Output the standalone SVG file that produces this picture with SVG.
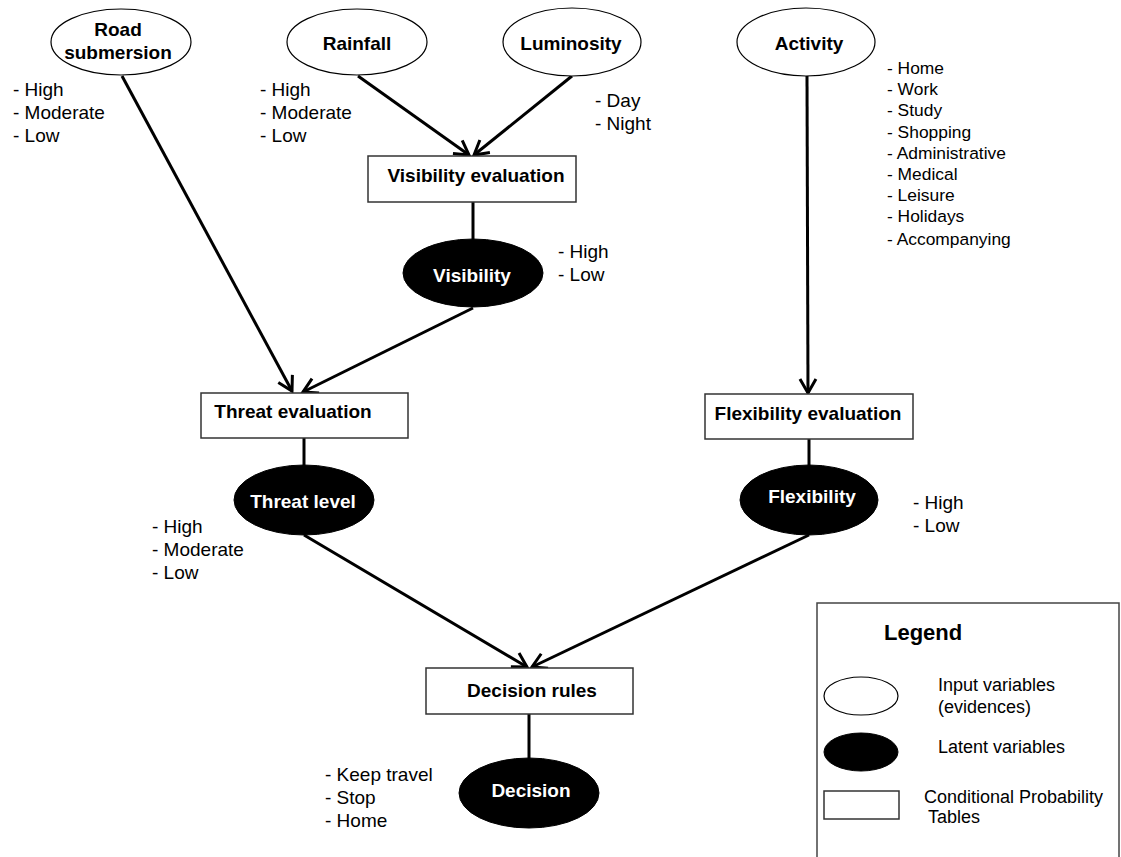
<svg xmlns="http://www.w3.org/2000/svg" width="1121" height="857" viewBox="0 0 1121 857">
<defs>
<style>
.in{fill:#fff;stroke:#000;stroke-width:1.2}
.lat{fill:#000;stroke:#000;stroke-width:1}
.cpt{fill:#fff;stroke:#333;stroke-width:1.5}
.nt{font-family:"Liberation Sans",Arial,sans-serif;font-weight:bold;font-size:19px;text-anchor:middle}
.wt{fill:#fff}
.bt{fill:#000}
.lbl{font-family:"Liberation Sans",Arial,sans-serif;font-size:19px;fill:#000}
.act{font-family:"Liberation Sans",Arial,sans-serif;font-size:17.4px;fill:#000}
.edge{stroke:#000;stroke-width:3;fill:none}
.lg{font-family:"Liberation Sans",Arial,sans-serif;font-size:18px;fill:#000}
</style>
<marker id="arr" markerUnits="userSpaceOnUse" markerWidth="24" markerHeight="24" viewBox="0 0 24 24" refX="20" refY="12" orient="auto">
<path d="M6,4 L20,12 L6,20" fill="none" stroke="#000" stroke-width="3"/>
</marker>
</defs>
<rect width="1121" height="857" fill="#fff"/>

<g id="connectors">
<line class="edge" x1="122" y1="76" x2="292" y2="391" marker-end="url(#arr)"/>
<line class="edge" x1="358" y1="76" x2="469" y2="155" marker-end="url(#arr)"/>
<line class="edge" x1="572" y1="76" x2="474" y2="155" marker-end="url(#arr)"/>
<line class="edge" x1="473" y1="202" x2="473" y2="239"/>
<line class="edge" x1="473" y1="308" x2="303" y2="392" marker-end="url(#arr)"/>
<line class="edge" x1="807" y1="76" x2="808" y2="393" marker-end="url(#arr)"/>
<line class="edge" x1="809" y1="439" x2="809" y2="466"/>
<line class="edge" x1="304" y1="438" x2="304" y2="466"/>
<line class="edge" x1="304" y1="535" x2="527" y2="667" marker-end="url(#arr)"/>
<line class="edge" x1="809" y1="535" x2="532" y2="667" marker-end="url(#arr)"/>
<line class="edge" x1="529" y1="714" x2="529" y2="758"/>
</g>

<g id="road">
<ellipse class="in" cx="121" cy="42" rx="70" ry="33"/>
<text class="nt bt" x="118" y="36">Road</text>
<text class="nt bt" x="118" y="59">submersion</text>
<text class="lbl" x="13" y="96">- High</text>
<text class="lbl" x="13" y="119">- Moderate</text>
<text class="lbl" x="13" y="142">- Low</text>
</g>

<g id="rainfall">
<ellipse class="in" cx="357" cy="42" rx="70" ry="33"/>
<text class="nt bt" x="357" y="50">Rainfall</text>
<text class="lbl" x="260" y="96">- High</text>
<text class="lbl" x="260" y="119">- Moderate</text>
<text class="lbl" x="260" y="142">- Low</text>
</g>

<g id="luminosity">
<ellipse class="in" cx="572" cy="42" rx="69" ry="34"/>
<text class="nt bt" x="571" y="50">Luminosity</text>
<text class="lbl" x="595" y="107">- Day</text>
<text class="lbl" x="595" y="130">- Night</text>
</g>

<g id="activity">
<ellipse class="in" cx="806" cy="42" rx="69" ry="34"/>
<text class="nt bt" x="809" y="50">Activity</text>
<text class="act" x="887" y="74">- Home</text>
<text class="act" x="887" y="95">- Work</text>
<text class="act" x="887" y="116">- Study</text>
<text class="act" x="887" y="138">- Shopping</text>
<text class="act" x="887" y="159">- Administrative</text>
<text class="act" x="887" y="180">- Medical</text>
<text class="act" x="887" y="201">- Leisure</text>
<text class="act" x="887" y="222">- Holidays</text>
<text class="act" x="887" y="245">- Accompanying</text>
</g>

<g id="visibility-evaluation">
<rect class="cpt" x="368" y="156" width="208" height="46"/>
<text class="nt bt" x="476" y="182">Visibility evaluation</text>
</g>

<g id="visibility">
<ellipse class="lat" cx="473" cy="273" rx="70" ry="34"/>
<text class="nt wt" x="472" y="282">Visibility</text>
<text class="lbl" x="558" y="258">- High</text>
<text class="lbl" x="558" y="281">- Low</text>
</g>

<g id="threat-evaluation">
<rect class="cpt" x="201" y="393" width="207" height="45"/>
<text class="nt bt" x="293" y="418">Threat evaluation</text>
</g>

<g id="threat-level">
<ellipse class="lat" cx="304" cy="500" rx="70" ry="35"/>
<text class="nt wt" x="303" y="508">Threat level</text>
<text class="lbl" x="152" y="533">- High</text>
<text class="lbl" x="152" y="556">- Moderate</text>
<text class="lbl" x="152" y="579">- Low</text>
</g>

<g id="flexibility-evaluation">
<rect class="cpt" x="705" y="394" width="208" height="45"/>
<text class="nt bt" x="808" y="420">Flexibility evaluation</text>
</g>

<g id="flexibility">
<ellipse class="lat" cx="809" cy="500" rx="69" ry="35"/>
<text class="nt wt" x="812" y="503">Flexibility</text>
<text class="lbl" x="913" y="509">- High</text>
<text class="lbl" x="913" y="532">- Low</text>
</g>

<g id="decision-rules">
<rect class="cpt" x="426" y="668" width="207" height="46"/>
<text class="nt bt" x="532" y="697">Decision rules</text>
</g>

<g id="decision">
<ellipse class="lat" cx="529" cy="793" rx="70" ry="35"/>
<text class="nt wt" x="531" y="797">Decision</text>
<text class="lbl" x="325" y="781">- Keep travel</text>
<text class="lbl" x="325" y="804">- Stop</text>
<text class="lbl" x="325" y="827">- Home</text>
</g>

<g id="legend">
<rect x="817" y="603" width="302" height="300" fill="#fff" stroke="#444" stroke-width="1.5"/>
<text x="884" y="640" font-family="Liberation Sans, Arial, sans-serif" font-weight="bold" font-size="22" fill="#000">Legend</text>
<ellipse class="in" cx="861" cy="696" rx="37" ry="19"/>
<text class="lg" x="938" y="691">Input variables</text>
<text class="lg" x="938" y="713">(evidences)</text>
<ellipse class="lat" cx="861" cy="752" rx="37" ry="19"/>
<text class="lg" x="938" y="753">Latent variables</text>
<rect class="cpt" x="824" y="791" width="75" height="28"/>
<text class="lg" x="924" y="803" font-size="17">Conditional Probability</text>
<text class="lg" x="928" y="823" font-size="17">Tables</text>
</g>
</svg>
